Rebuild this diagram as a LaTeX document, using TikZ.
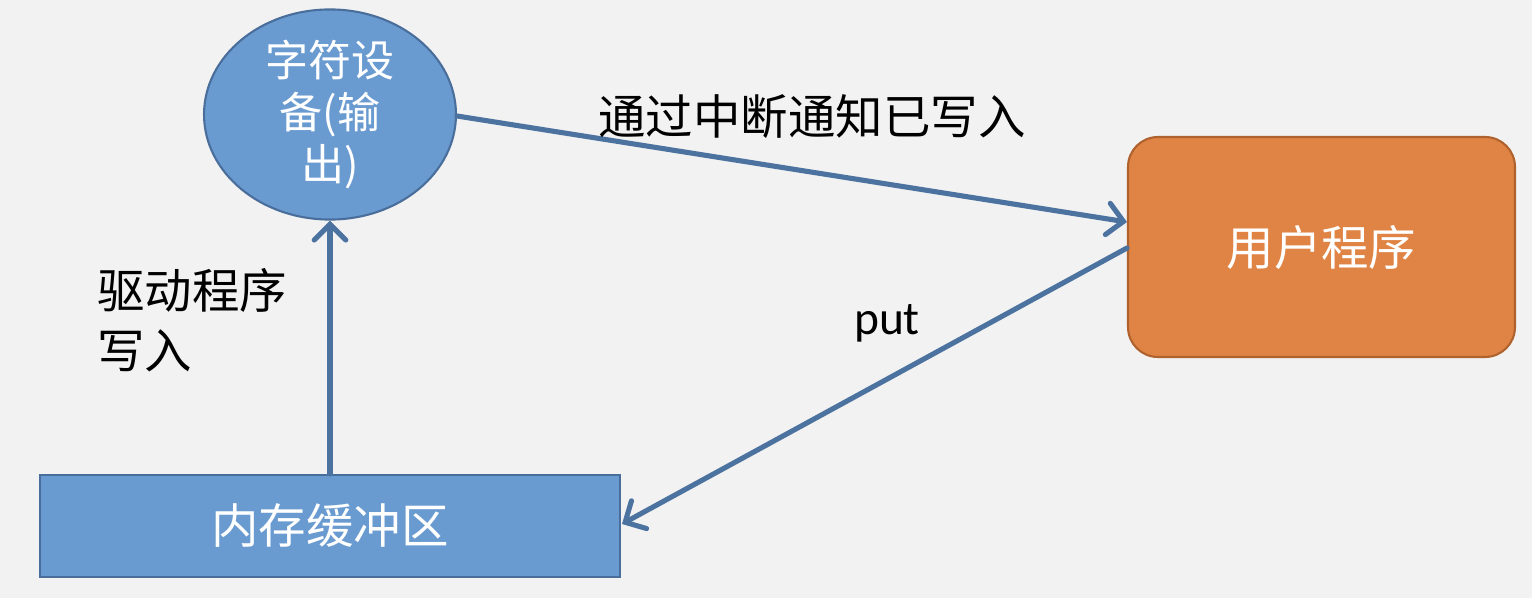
\documentclass[tikz,border=0pt]{standalone}
\usepackage{fontspec}
\setmainfont{Noto Sans CJK SC}
\newfontfamily\latinf{Carlito}
\usetikzlibrary{arrows.meta,shapes.geometric}
\definecolor{bgc}{HTML}{F2F2F2}
\definecolor{bluef}{HTML}{6A9BD0}
\definecolor{blued}{HTML}{4A6E9B}
\definecolor{arrc}{HTML}{4C72A0}
\definecolor{orangef}{HTML}{E08446}
\definecolor{oranged}{HTML}{B0622E}
\tikzset{
  conn/.style={draw=arrc, line width=2.9pt, line cap=round,
    -{Straight Barb[length=9pt,width=18pt,line cap=round]}},
  lbl/.style={font=\fontsize{27}{34}\selectfont, text=black, inner sep=0pt},
  wtxt/.style={font=\fontsize{27}{34}\selectfont, text=white},
}
\begin{document}
\begin{tikzpicture}[x=0.02cm,y=-0.02cm]
\useasboundingbox[fill=bgc] (0,0) rectangle (1532,598);
\node[ellipse, draw=blued, line width=1.2pt, fill=bluef, minimum width=5.04cm, minimum height=4.1cm, inner sep=0pt,
  align=center, font=\fontsize{24.5}{29.5}\selectfont, text=white] (dev) at (330,114.5) {字符设\\备(输\\出)};
\node[rectangle, draw=blued, line width=1.2pt, fill=bluef, minimum width=11.6cm, minimum height=2.04cm, inner sep=0pt, wtxt] (buf) at (330,526) {内存缓冲区};
\node[rectangle, rounded corners=17pt, draw=oranged, line width=1.2pt, fill=orangef, minimum width=7.74cm, minimum height=4.4cm, inner sep=0pt, wtxt] (usr) at (1321.5,247) {用户程序};
\coordinate (a1) at (457,116);
\coordinate (a2) at (1127,222);
\coordinate (b1) at (1127,248);
\coordinate (b2) at (622,524);
\draw[conn] (buf.north) -- (dev.south);
\draw[conn] (a1) -- (a2);
\draw[conn] (b1) -- (b2);
\node[lbl, anchor=center] (t1) at (812,117) {通过中断通知已写入};
\node[lbl, anchor=center] (t2) at (887,323) {\latinf put};
\node[lbl, anchor=north west, align=left] (t3) at (97,268) {驱动程序\\写入};
\end{tikzpicture}
\end{document}
